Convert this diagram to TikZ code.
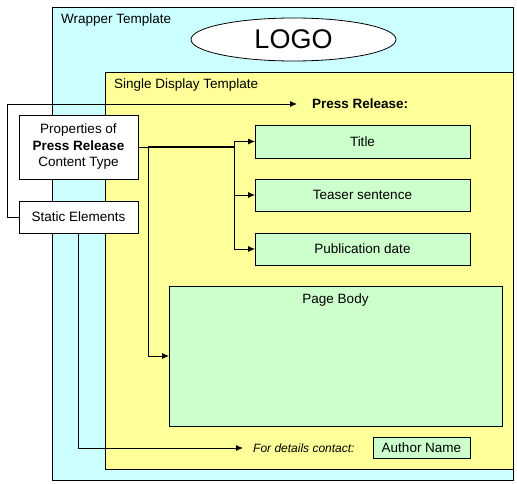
\documentclass[tikz,border=0pt]{standalone}
\usepackage{fontspec}
\setmainfont{Liberation Sans}
\usetikzlibrary{arrows, arrows.meta, shapes.geometric, calc, positioning}
\definecolor{wrapCyan}{HTML}{CCFFFF}
\definecolor{tplYellow}{HTML}{FFFF99}
\definecolor{fieldGreen}{HTML}{CCFFCC}
\tikzset{
    tplBox/.style={rectangle, draw, line width=0.8pt, inner sep=0pt, outer sep=0pt, anchor=north west},
    fieldBox/.style={rectangle, draw, fill=fieldGreen, line width=0.8pt, inner sep=0pt, outer sep=0pt},
    infoBox/.style={rectangle, draw, fill=white, line width=0.8pt, inner sep=0pt, outer sep=0pt, align=center},
    caption/.style={inner sep=0pt, anchor=west},
    link/.style={->, >={Latex[length=7pt, width=6pt]}, line width=0.8pt},
}
\newcommand{\drawBranch}[2]{
    \draw[link] (#1) |- (#2.west);
}
\newcommand{\txt}{\fontsize{13.5}{16.5}\selectfont}

\begin{document}
\begin{tikzpicture}[x=1pt, y=-1pt, font=\txt]
    \useasboundingbox (0,0) rectangle (517,484);

    % templates
    \node[tplBox, fill=wrapCyan, minimum width=461pt, minimum height=473pt] (wrap) at (52,7) {};
    \node[caption] (wrapLbl) at (61,20) {Wrapper Template};
    \node[ellipse, draw, fill=white, line width=0.8pt, minimum width=205pt, minimum height=43pt, inner sep=0pt, font=\fontsize{27}{30}\selectfont] (logo) at (293.5,39.5) {LOGO};
    \node[tplBox, fill=tplYellow, minimum width=408pt, minimum height=397pt] (single) at (105,72) {};
    \node[caption] (singleLbl) at (114,85) {Single Display Template};

    % fields
    \node[fieldBox, minimum width=215pt, minimum height=33pt] (title) at (362.5,141.5) {Title};
    \node[fieldBox, minimum width=215pt, minimum height=32pt] (teaser) at (362.5,195) {Teaser sentence};
    \node[fieldBox, minimum width=215pt, minimum height=32pt] (pubdate) at (362.5,249) {Publication date};
    \node[fieldBox, minimum width=333pt, minimum height=140pt] (body) at (335.5,356) {};
    \node[inner sep=0pt] (bodyLbl) at (335.5,300) {Page Body};
    \node[fieldBox, minimum width=97pt, minimum height=21pt] (author) at (421.5,447.5) {Author Name};

    % static texts
    \node[caption, font=\txt\bfseries] (pressLbl) at (312,104) {Press Release:};
    \node[caption, font=\fontsize{12}{14}\selectfont\itshape] (contactLbl) at (253,448) {For details contact:};
    \coordinate (pressTip) at (297,104);
    \coordinate (contactTip) at (243,448);

    % sources
    \node[infoBox, minimum width=119pt, minimum height=64pt] (props) at (78.5,147) {Properties of\\\textbf{Press Release}\\Content Type};
    \node[infoBox, minimum width=119pt, minimum height=32pt] (static) at (78.5,217) {Static Elements};

    % connectors
    \coordinate (bodyFork) at (148,147);
    \coordinate (fork) at (234,147);
    \draw[line width=0.8pt] (props.east) -- (bodyFork);
    \draw[line width=1.8pt] (bodyFork) -- (fork);
    \drawBranch{fork}{title}
    \drawBranch{fork}{teaser}
    \drawBranch{fork}{pubdate}
    \drawBranch{bodyFork}{body}
    \draw[link] (static.west) -- ++(-12,0) |- (pressTip);
    \draw[link] (static.south) |- (contactTip);

\end{tikzpicture}
\end{document}
